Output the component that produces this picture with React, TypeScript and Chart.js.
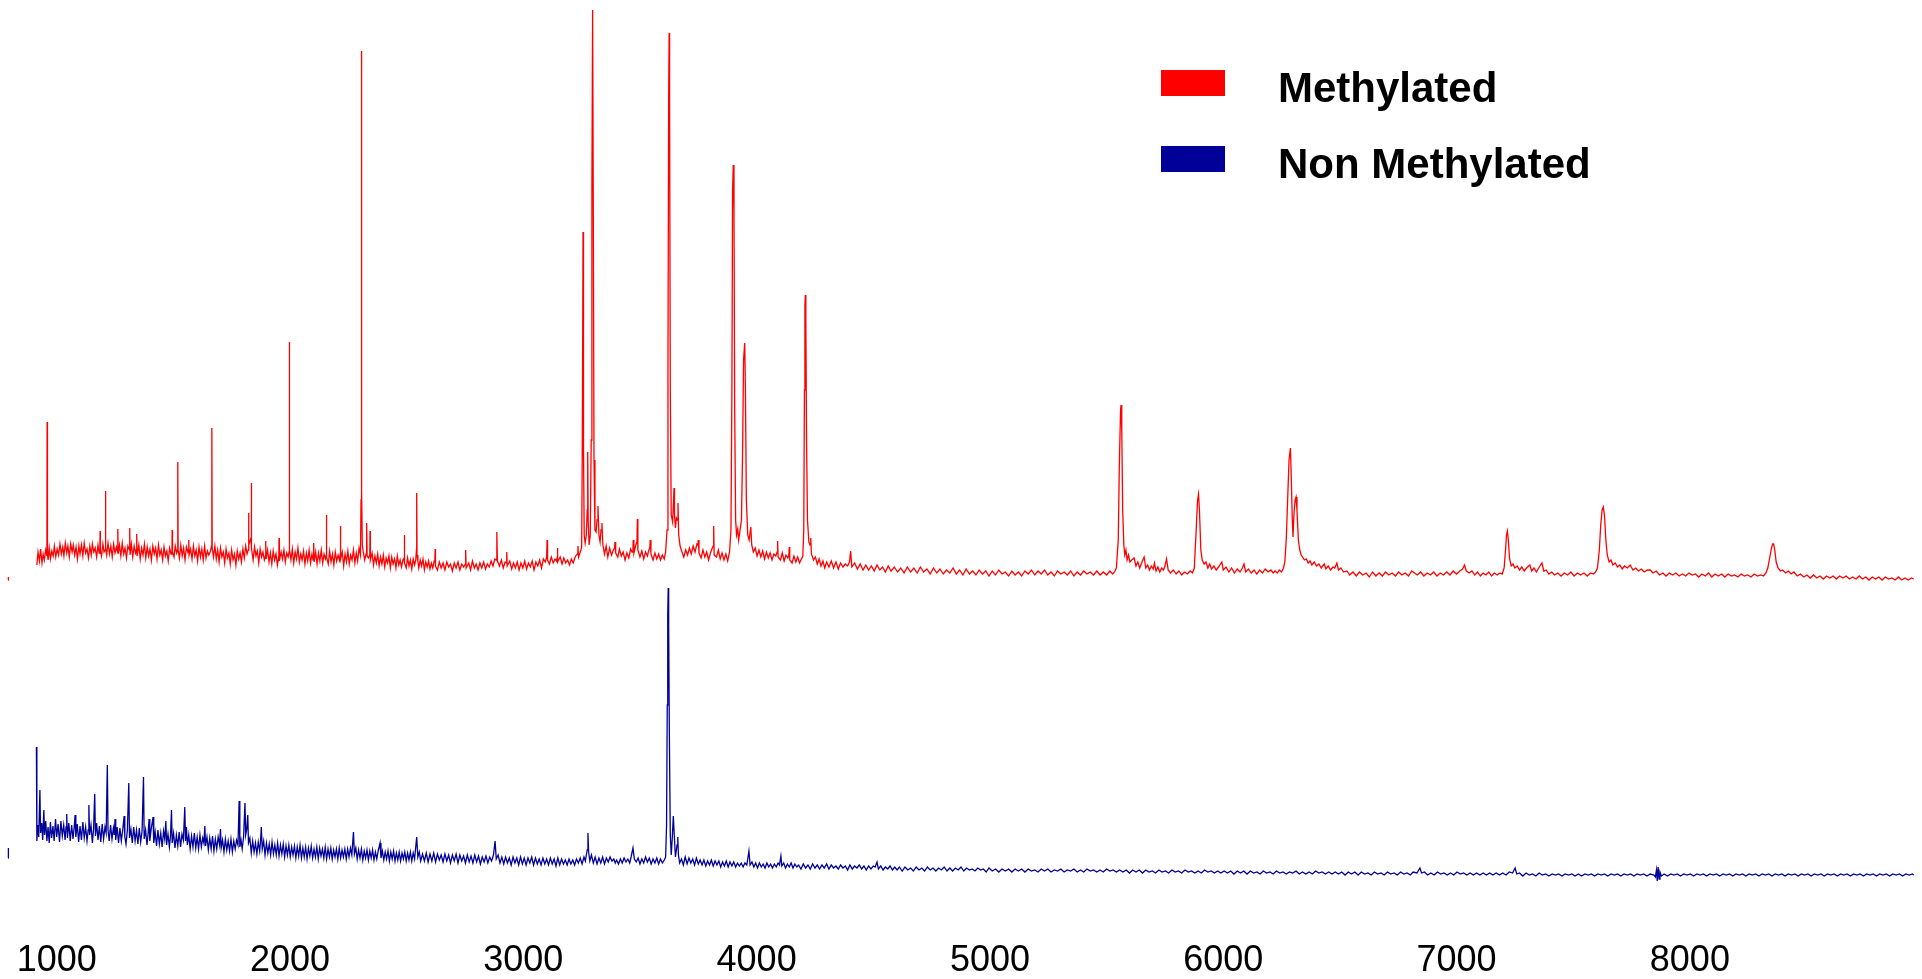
import { useEffect, useRef } from 'react';
import { Chart, registerables } from 'chart.js';

Chart.register(...registerables);

// m/z axis range and tick labels
const X_MIN = 757;
const X_MAX = 8995;
const X_TICKS = [1000, 2000, 3000, 4000, 5000, 6000, 7000, 8000];

// vertical range (intensity, a.u.) and the offset of each stacked spectrum
const Y_MAX = 943;
const RED_OFFSET = 353;
const BLUE_OFFSET = 58;

const SERIES_NAMES = ['Methylated', 'Non Methylated'];
const SERIES_COLORS = ['#ff0000', '#000099'];

type Pt = [number, number];

// ---- Methylated spectrum: [m/z, intensity] ----
const RED_LEAD: Pt[] = [[792, 10], [793, 13]];

const RED_1: Pt[] = [
  [915, 25], [920, 38], [926, 29], [931, 41], [937, 27], [942, 36], [947, 30], [953, 40], [958, 34], [959, 168], [960.5, 36],
  [963, 30], [968, 42], [973, 31], [979, 39], [985, 34], [990, 44], [996, 33], [1002, 41], [1008, 35], [1014, 46], [1020, 36],
  [1026, 43], [1031, 34], [1037, 47], [1043, 37], [1048, 44], [1054, 33], [1060, 46], [1066, 38], [1071, 45], [1077, 35],
  [1083, 43], [1089, 31], [1095, 44], [1100, 36], [1106, 45], [1112, 34], [1118, 47], [1124, 37], [1130, 41], [1136, 32],
  [1142, 44], [1148, 35], [1153, 46], [1159, 38], [1165, 42], [1171, 33], [1177, 45], [1182, 37], [1185, 38], [1186, 59],
  [1187, 40], [1192, 34], [1198, 46], [1203, 38], [1208, 40], [1209, 99], [1210.5, 42], [1214, 35], [1220, 47], [1226, 36],
  [1232, 44], [1238, 33], [1244, 46], [1250, 37], [1256, 43], [1261, 38], [1262, 61], [1263.5, 36], [1269, 45], [1275, 34],
  [1281, 47], [1287, 36], [1293, 42], [1299, 32], [1305, 44], [1312, 40], [1313, 62], [1314.5, 35], [1320, 46], [1326, 33],
  [1332, 44], [1338, 37], [1342, 40], [1343, 56], [1344.5, 34], [1352, 45], [1358, 31], [1364, 42], [1370, 35], [1376, 46],
  [1382, 32], [1388, 43], [1394, 34], [1400, 41], [1406, 30], [1412, 44], [1418, 36], [1424, 42], [1430, 31], [1436, 45],
  [1442, 35], [1448, 40], [1454, 30], [1460, 43], [1466, 34], [1472, 39], [1478, 29], [1484, 42], [1490, 36], [1494, 38],
  [1495, 60], [1496.5, 38], [1503, 33], [1508, 44], [1514, 37], [1518, 40], [1519, 128], [1520.5, 40], [1526, 32], [1532, 45],
  [1538, 34], [1544, 42], [1550, 30], [1556, 43], [1562, 38], [1565, 40], [1566, 50], [1567.5, 35], [1574, 41], [1580, 31],
  [1586, 44], [1592, 34], [1598, 40], [1604, 29], [1610, 43], [1616, 33], [1622, 41], [1628, 30], [1634, 44], [1640, 32],
  [1646, 39], [1652, 35], [1658, 38], [1664, 44], [1665, 162], [1666.5, 42], [1672, 33], [1678, 44], [1684, 31], [1690, 40],
  [1696, 28], [1702, 42], [1708, 33], [1714, 38], [1720, 27], [1726, 41], [1732, 32], [1738, 37], [1744, 26], [1750, 40],
  [1756, 30], [1762, 36], [1768, 25], [1774, 39], [1780, 31], [1786, 37], [1792, 28], [1798, 41], [1804, 32], [1810, 44],
  [1816, 36], [1821, 40], [1822, 77], [1824, 45], [1830, 50], [1833, 52], [1834, 107], [1835.5, 42], [1842, 30], [1848, 43],
  [1854, 34], [1860, 39], [1866, 27], [1872, 41], [1878, 33], [1884, 38], [1890, 30], [1895, 34], [1896, 49], [1897.5, 31],
  [1904, 40], [1910, 28], [1916, 37], [1922, 26], [1928, 39], [1934, 30], [1940, 36], [1946, 25], [1952, 34], [1953, 52],
  [1954.5, 29], [1962, 38], [1968, 31], [1974, 40], [1980, 28], [1986, 37], [1992, 33], [1996, 38], [1997, 248], [1998.5, 40],
  [2004, 30], [2010, 41], [2016, 27], [2022, 38], [2028, 31], [2034, 42], [2040, 28], [2046, 36], [2052, 30], [2058, 39],
  [2064, 26], [2070, 37], [2076, 29], [2082, 40], [2088, 27], [2094, 36], [2099, 30], [2101, 33], [2102, 47], [2103.5, 28],
  [2110, 38], [2116, 26], [2122, 37], [2128, 29], [2134, 40], [2140, 27], [2146, 36], [2152, 31], [2155, 34], [2156, 75],
  [2157.5, 33], [2164, 26], [2170, 39], [2176, 28], [2182, 36], [2188, 25], [2194, 38], [2200, 29], [2206, 35], [2212, 30],
  [2215, 35], [2216, 64], [2217.5, 31], [2224, 38], [2230, 24], [2236, 36], [2242, 28], [2248, 39], [2254, 26], [2260, 35],
  [2266, 30], [2272, 40], [2278, 27], [2284, 37], [2290, 29], [2296, 42], [2302, 35], [2304.5, 90], [2306, 539], [2307.5, 100],
  [2310, 45], [2314, 38], [2320, 30], [2326, 36], [2328, 38], [2329, 67], [2330.5, 34], [2336, 32], [2342, 35], [2343, 59],
  [2344.5, 30], [2352, 37], [2358, 25], [2364, 34], [2370, 27], [2376, 36], [2382, 24], [2388, 33], [2394, 26], [2400, 35],
  [2406, 23], [2412, 32], [2418, 27], [2424, 34], [2430, 22], [2436, 33], [2442, 26], [2448, 31], [2454, 22], [2460, 34],
  [2466, 25], [2472, 30], [2478, 23], [2484, 30], [2489, 32], [2490, 55], [2491.5, 27], [2498, 22],
];

const RED_2: Pt[] = [
  [2504, 32], [2510, 24], [2516, 30], [2522, 21], [2528, 31], [2534, 25], [2539, 30], [2542, 40], [2543, 97], [2544.5, 35],
  [2548, 29], [2552, 22], [2558, 30], [2564, 24], [2570, 31], [2576, 20], [2582, 28], [2588, 23], [2594, 29], [2600, 21],
  [2606, 27], [2612, 22], [2618, 29], [2621, 30], [2622, 41], [2623.5, 24], [2632, 20], [2640, 28], [2648, 22], [2656, 27],
  [2664, 20], [2672, 28], [2680, 23], [2688, 26], [2696, 19], [2704, 27], [2712, 22], [2720, 28], [2728, 20], [2736, 26],
  [2744, 23], [2752, 26], [2753, 40], [2755, 22], [2766, 27], [2774, 20], [2782, 29], [2790, 22], [2798, 26], [2806, 20],
  [2814, 27], [2822, 22], [2830, 28], [2838, 21], [2846, 26], [2854, 23], [2862, 29], [2870, 24], [2878, 31], [2884, 30],
  [2886, 35], [2887, 58], [2889, 29], [2898, 24], [2906, 30], [2914, 22], [2922, 28], [2928, 27], [2929, 38], [2931, 24],
  [2942, 29], [2950, 21], [2958, 27], [2966, 22], [2974, 28], [2982, 20], [2990, 27], [2998, 22], [3006, 29], [3014, 21],
  [3022, 27], [3030, 23], [3038, 29], [3046, 20], [3054, 28], [3062, 24], [3070, 30], [3078, 22], [3086, 31], [3094, 28],
  [3100, 33], [3102, 50], [3104, 30], [3112, 26], [3120, 33], [3128, 27], [3136, 31], [3142, 29], [3145, 32], [3146, 42],
  [3148, 28], [3158, 33], [3166, 26], [3174, 32], [3182, 27], [3190, 30], [3198, 25], [3206, 31], [3214, 27], [3222, 33],
  [3228, 35], [3232, 36], [3234, 44], [3237, 33], [3244, 38], [3250, 42], [3253, 150], [3256, 358], [3258, 140], [3261, 55],
  [3265, 47], [3270, 55], [3274, 80], [3276, 138], [3278, 70], [3282, 45], [3287, 55], [3291, 150], [3294, 400], [3297, 580],
  [3300, 380], [3303, 130], [3307, 60], [3312, 58], [3316, 70], [3320, 84], [3324, 55], [3329, 48], [3333, 60], [3337, 67],
  [3341, 45], [3348, 36], [3355, 44], [3362, 33], [3370, 42], [3378, 35], [3386, 40], [3391, 42], [3393, 48], [3396, 37],
  [3405, 33], [3412, 41], [3420, 34], [3428, 38], [3436, 30], [3444, 37], [3452, 32], [3460, 41], [3466, 38], [3470, 42],
  [3471, 50], [3474, 37], [3482, 45], [3487, 48], [3489, 71], [3491, 40], [3500, 33], [3508, 39], [3516, 31], [3524, 38],
  [3532, 34], [3538, 40], [3542, 42], [3544, 50], [3547, 36], [3556, 30], [3564, 37], [3572, 31], [3580, 36], [3588, 30],
  [3596, 35], [3604, 31], [3610, 38], [3616, 60], [3620, 220], [3623, 490], [3625, 557], [3627, 480], [3630, 200], [3634, 75],
  [3640, 68], [3644, 90], [3646, 102], [3648, 75], [3652, 62], [3656, 72], [3660, 70], [3663, 87], [3666, 55], [3672, 44],
  [3680, 38], [3688, 33], [3696, 40], [3704, 35], [3712, 42], [3720, 36], [3728, 44], [3736, 38], [3744, 46], [3748, 45],
  [3750, 50], [3753, 37], [3762, 32], [3770, 40], [3778, 33], [3786, 38], [3794, 30], [3802, 37], [3810, 42], [3814, 44],
  [3816, 64], [3818, 35], [3828, 33], [3836, 40], [3844, 31], [3852, 37], [3860, 30], [3868, 36], [3876, 29], [3884, 38],
  [3890, 60], [3894, 200], [3897, 400], [3900, 425], [3903, 380], [3906, 180], [3910, 70], [3914, 55], [3919, 61], [3923, 50],
  [3928, 58], [3935, 70], [3940, 140], [3944, 230], [3949, 247], [3952, 200], [3956, 90], [3962, 55], [3968, 50], [3975, 63],
  [3979, 45], [3986, 38], [3994, 42], [4002, 34], [4010, 40], [4018, 33], [4026, 39], [4034, 31], [4042, 38], [4050, 32],
  [4058, 37], [4066, 30], [4074, 36], [4082, 34], [4088, 38], [4090, 49], [4092, 33], [4102, 30], [4110, 37], [4118, 29],
  [4126, 35], [4134, 32], [4138, 35], [4140, 43], [4142, 30], [4152, 27], [4160, 34], [4168, 28], [4176, 33], [4184, 27],
  [4192, 31], [4198, 34], [4202, 60], [4205, 200], [4207, 285], [4209, 295], [4211, 270], [4214, 150], [4218, 70], [4224, 48],
  [4229, 45], [4232, 52], [4235, 36], [4244, 30], [4252, 33], [4260, 26], [4268, 31], [4276, 24], [4284, 29], [4292, 22],
  [4300, 28], [4310, 23], [4320, 29], [4330, 22], [4340, 28], [4350, 21], [4360, 27], [4370, 23], [4380, 26], [4390, 24],
  [4398, 28], [4403, 39], [4408, 23], [4420, 27], [4432, 21], [4444, 26], [4456, 20], [4468, 25], [4480, 20], [4492, 24],
];

const RED_3: Pt[] = [
  [4504, 19], [4516, 25], [4528, 20], [4540, 23], [4552, 18], [4564, 24], [4576, 19], [4590, 23], [4604, 18], [4618, 22],
  [4632, 17], [4646, 23], [4660, 18], [4674, 22], [4688, 17], [4702, 23], [4716, 18], [4730, 21], [4744, 16], [4758, 22],
  [4772, 17], [4786, 21], [4800, 16], [4814, 20], [4828, 17], [4842, 22], [4856, 16], [4870, 20], [4884, 15], [4898, 21],
  [4912, 16], [4926, 19], [4940, 15], [4954, 20], [4968, 16], [4982, 19], [4996, 14], [5010, 19], [5024, 15], [5038, 20],
  [5052, 16], [5066, 18], [5080, 14], [5094, 19], [5108, 15], [5122, 18], [5136, 14], [5150, 19], [5164, 16], [5178, 20],
  [5192, 15], [5206, 19], [5220, 16], [5234, 20], [5248, 15], [5262, 18], [5276, 14], [5290, 19], [5304, 16], [5318, 18],
  [5332, 15], [5346, 19], [5360, 14], [5374, 18], [5388, 15], [5402, 19], [5416, 16], [5430, 18], [5444, 15], [5458, 19],
  [5472, 15], [5486, 18], [5500, 15], [5514, 19], [5526, 16], [5534, 18], [5542, 22], [5550, 50], [5555, 130], [5560, 180],
  [5562, 185], [5565, 160], [5569, 80], [5574, 45], [5578, 35], [5583, 40], [5588, 30], [5594, 35], [5600, 28], [5608, 30],
  [5618, 32], [5626, 24], [5634, 28], [5642, 22], [5650, 27], [5661, 33], [5668, 22], [5676, 25], [5684, 20], [5692, 24],
  [5700, 21], [5705, 27], [5712, 19], [5720, 23], [5728, 18], [5736, 22], [5744, 20], [5750, 24], [5757, 31], [5764, 20],
  [5774, 17], [5786, 20], [5798, 16], [5810, 19], [5822, 15], [5834, 18], [5846, 16], [5858, 19], [5868, 17], [5876, 22],
  [5884, 60], [5890, 90], [5894, 96], [5898, 80], [5904, 40], [5910, 30], [5918, 26], [5926, 28], [5934, 22], [5942, 26],
  [5950, 21], [5960, 24], [5970, 20], [5980, 23], [5994, 28], [6000, 20], [6012, 23], [6024, 18], [6036, 22], [6048, 17],
  [6060, 21], [6072, 18], [6082, 22], [6089, 26], [6096, 18], [6108, 21], [6120, 17], [6132, 20], [6144, 16], [6156, 20],
  [6168, 17], [6180, 21], [6192, 18], [6204, 20], [6214, 17], [6222, 19], [6232, 17], [6240, 20], [6250, 18], [6258, 22],
  [6264, 28], [6270, 50], [6276, 90], [6282, 130], [6288, 142], [6292, 110], [6296, 70], [6299, 53], [6303, 75], [6308, 90],
  [6312, 93], [6316, 80], [6322, 50], [6328, 40], [6334, 35], [6340, 33], [6348, 30], [6356, 31], [6364, 27], [6372, 29],
  [6380, 25], [6390, 28], [6400, 24], [6410, 26], [6420, 22], [6433, 26], [6440, 21], [6450, 24], [6460, 20], [6470, 23],
  [6478, 22], [6487, 27], [6494, 20], [6504, 22], [6516, 18], [6530, 19], [6542, 15], [6556, 18], [6570, 14], [6584, 18],
  [6598, 15], [6612, 17], [6626, 13], [6640, 18], [6654, 14], [6668, 17], [6682, 14], [6696, 18], [6710, 15], [6724, 17],
  [6738, 14], [6752, 18], [6766, 15], [6780, 17], [6794, 14], [6808, 19], [6820, 17], [6832, 15], [6846, 18], [6860, 14],
  [6874, 17], [6888, 15], [6902, 18], [6916, 14], [6930, 17], [6944, 15], [6958, 18], [6972, 15], [6986, 19], [7000, 16],
  [7014, 19], [7026, 21], [7034, 25], [7042, 19], [7054, 17], [7066, 19], [7078, 15], [7090, 18], [7102, 14], [7114, 17],
  [7126, 15], [7138, 18], [7150, 14], [7162, 17], [7174, 15], [7186, 17], [7196, 16], [7204, 22], [7210, 40], [7214, 55],
  [7218, 59], [7222, 50], [7227, 32], [7234, 24], [7242, 26], [7250, 22], [7260, 24], [7270, 20], [7280, 23], [7290, 19],
  [7300, 22], [7314, 25], [7322, 19], [7332, 22], [7342, 18], [7352, 22], [7366, 27], [7374, 19], [7384, 20], [7396, 16],
  [7408, 18], [7420, 15], [7434, 17], [7448, 14], [7462, 17], [7476, 15], [7490, 18], [7504, 14], [7518, 17], [7532, 15],
  [7546, 17], [7560, 14], [7574, 17], [7586, 16], [7596, 18], [7604, 22], [7612, 40], [7618, 65], [7624, 80], [7629, 83],
  [7634, 75], [7640, 50], [7646, 35], [7654, 28], [7662, 30], [7670, 25], [7680, 27], [7690, 23], [7700, 25], [7710, 21],
  [7720, 24], [7732, 22], [7744, 25], [7756, 20], [7768, 22], [7780, 19], [7792, 21], [7804, 18], [7818, 20], [7830, 20],
  [7842, 17], [7856, 19], [7870, 15], [7884, 17], [7898, 14], [7912, 17], [7926, 15], [7940, 17], [7954, 14], [7968, 16],
  [7982, 14], [7996, 17], [8010, 15], [8024, 16], [8038, 13], [8052, 16], [8066, 14], [8080, 17], [8094, 13], [8108, 16],
  [8122, 14], [8136, 16], [8150, 13], [8164, 16], [8178, 14], [8192, 15], [8206, 13], [8220, 16], [8234, 14], [8248, 15],
  [8262, 13], [8276, 16], [8290, 14], [8304, 15], [8316, 14], [8326, 17], [8334, 22], [8342, 32], [8350, 42], [8355, 46],
  [8359, 46], [8364, 40], [8370, 28], [8378, 22], [8388, 19], [8398, 20], [8410, 17], [8422, 19], [8434, 16], [8446, 18],
  [8460, 14], [8474, 16], [8488, 13], [8502, 15], [8516, 12], [8530, 15], [8544, 12], [8558, 14], [8572, 11], [8586, 14],
  [8600, 12], [8614, 14], [8628, 11], [8642, 14], [8656, 12], [8670, 14], [8684, 11], [8698, 13], [8712, 11], [8726, 14],
  [8740, 11], [8754, 13], [8768, 10], [8782, 13], [8796, 11], [8810, 13], [8824, 10], [8838, 13], [8852, 11], [8866, 12],
  [8880, 10], [8894, 13], [8908, 10], [8922, 12], [8936, 10], [8950, 12], [8960, 11],
];

// ---- Non methylated spectrum: [m/z, intensity] ----
const BLUE_LEAD: Pt[] = [[792, 27], [793, 37]];

const BLUE_1: Pt[] = [
  [913, 138], [915, 44], [919, 60], [923, 48], [928, 95], [931, 52], [936, 62], [940, 45], [945, 75], [948, 50], [953, 64],
  [958, 44], [963, 58], [968, 42], [973, 63], [978, 47], [984, 59], [989, 44], [995, 66], [1000, 48], [1006, 61], [1012, 43],
  [1018, 64], [1024, 49], [1030, 60], [1036, 45], [1040, 58], [1043, 71], [1046, 47], [1052, 62], [1058, 44], [1064, 60],
  [1070, 46], [1075, 58], [1079, 70], [1082, 48], [1088, 61], [1094, 43], [1100, 59], [1106, 45], [1112, 63], [1118, 47],
  [1124, 58], [1130, 44], [1135, 55], [1138, 80], [1141, 50], [1147, 60], [1153, 42], [1158, 56], [1163, 91], [1166, 49],
  [1171, 62], [1177, 45], [1183, 59], [1189, 43], [1195, 61], [1201, 46], [1207, 58], [1212, 52], [1217, 120], [1220, 55],
  [1225, 44], [1231, 60], [1237, 46], [1243, 57], [1247, 50], [1250, 66], [1253, 45], [1259, 58], [1265, 42], [1271, 57],
  [1277, 44], [1283, 55], [1289, 69], [1292, 48], [1297, 41], [1303, 55], [1309, 102], [1312, 47], [1318, 56], [1324, 42],
  [1330, 58], [1336, 44], [1342, 55], [1348, 41], [1354, 57], [1360, 43], [1366, 54], [1372, 108], [1375, 46], [1381, 55],
  [1387, 40], [1392, 52], [1396, 66], [1399, 44], [1405, 56], [1413, 68], [1416, 42], [1422, 53], [1428, 39], [1434, 55],
  [1440, 41], [1446, 52], [1452, 38], [1458, 54], [1463, 46], [1468, 64], [1471, 40], [1477, 51], [1483, 38], [1488, 50],
  [1492, 75], [1495, 42], [1501, 52], [1507, 37], [1513, 50], [1519, 39], [1525, 53], [1531, 38], [1537, 51], [1543, 45],
  [1549, 78], [1552, 44], [1556, 58], [1560, 40], [1566, 50], [1572, 36], [1578, 49], [1584, 38], [1590, 52], [1596, 37],
  [1602, 48], [1608, 36], [1614, 50], [1620, 38], [1626, 47], [1631, 42], [1635, 59], [1638, 39], [1644, 48], [1650, 35],
  [1656, 47], [1662, 36], [1668, 49], [1674, 34], [1680, 46], [1686, 36], [1692, 48], [1698, 40], [1702, 56], [1705, 37],
  [1711, 45], [1717, 33], [1723, 46], [1729, 35], [1735, 44], [1741, 34], [1747, 46], [1753, 33], [1759, 44], [1765, 36],
  [1771, 45], [1777, 40], [1782, 84], [1785, 38], [1790, 45], [1795, 36], [1801, 48], [1807, 82], [1810, 50], [1814, 55],
  [1819, 70], [1822, 42], [1828, 47], [1834, 32], [1840, 44], [1846, 33], [1852, 42], [1858, 31], [1864, 43], [1870, 34],
  [1874, 45], [1877, 58], [1881, 36], [1887, 44], [1893, 30], [1899, 42], [1905, 32], [1911, 41], [1917, 30], [1923, 43],
  [1929, 31], [1935, 40], [1941, 30], [1947, 42], [1953, 29], [1959, 40], [1965, 31], [1971, 41], [1977, 28], [1983, 39],
  [1989, 30], [1995, 40], [2001, 28], [2007, 38], [2013, 30], [2019, 39], [2025, 27], [2031, 38], [2037, 29], [2043, 40],
  [2049, 27], [2055, 37], [2061, 28], [2067, 38], [2073, 26], [2079, 37], [2085, 29], [2091, 39], [2097, 27], [2103, 36],
  [2109, 28], [2115, 38], [2121, 26], [2127, 37], [2133, 29], [2139, 36], [2145, 27], [2151, 38], [2157, 26], [2163, 36],
  [2169, 28], [2175, 37], [2181, 26], [2187, 35], [2193, 28], [2199, 36], [2205, 26], [2211, 37], [2217, 27], [2223, 35],
  [2229, 28], [2235, 36], [2241, 26], [2247, 36], [2253, 28], [2259, 37], [2265, 30], [2272, 53], [2276, 31], [2282, 37],
  [2288, 26], [2294, 35], [2300, 27], [2306, 36], [2312, 25], [2318, 34], [2324, 27], [2330, 35], [2336, 25], [2342, 34],
  [2348, 27], [2354, 35], [2360, 25], [2366, 33], [2372, 26], [2378, 34], [2386, 42], [2390, 27], [2396, 34], [2402, 25],
  [2408, 33], [2414, 26], [2420, 34], [2426, 24], [2432, 33], [2438, 26], [2444, 34], [2450, 24], [2456, 32], [2462, 25],
  [2468, 33], [2474, 24], [2480, 32], [2486, 26], [2492, 33], [2498, 24],
];

const BLUE_2: Pt[] = [
  [2504, 32], [2510, 25], [2516, 33], [2522, 24], [2528, 32], [2534, 26], [2543, 48], [2548, 28], [2554, 33], [2560, 24],
  [2568, 31], [2576, 24], [2584, 32], [2592, 23], [2600, 31], [2608, 24], [2616, 32], [2624, 23], [2632, 31], [2640, 25],
  [2648, 30], [2656, 23], [2664, 31], [2672, 24], [2680, 30], [2688, 22], [2696, 30], [2704, 24], [2712, 31], [2720, 22],
  [2728, 30], [2736, 24], [2744, 29], [2752, 22], [2760, 30], [2768, 23], [2776, 29], [2784, 22], [2792, 30], [2800, 23],
  [2808, 29], [2816, 21], [2824, 28], [2832, 23], [2840, 29], [2848, 22], [2856, 28], [2864, 24], [2872, 30], [2879, 44],
  [2884, 26], [2892, 30], [2900, 22], [2908, 28], [2916, 21], [2924, 28], [2932, 22], [2940, 27], [2948, 20], [2956, 28],
  [2964, 22], [2972, 27], [2980, 20], [2988, 28], [2996, 21], [3004, 27], [3012, 20], [3020, 27], [3028, 22], [3036, 28],
  [3044, 20], [3052, 27], [3060, 21], [3068, 26], [3076, 20], [3084, 27], [3092, 21], [3100, 26], [3108, 20], [3116, 27],
  [3124, 21], [3132, 26], [3140, 19], [3148, 27], [3156, 20], [3164, 26], [3172, 21], [3180, 25], [3188, 20], [3196, 26],
  [3204, 21], [3212, 25], [3220, 20], [3228, 26], [3236, 22], [3244, 27], [3252, 21], [3260, 28], [3266, 24], [3270, 30],
  [3274, 35], [3277, 52], [3280, 33], [3285, 24], [3292, 30], [3300, 22], [3308, 28], [3316, 21], [3324, 27], [3332, 22],
  [3340, 28], [3348, 21], [3356, 27], [3364, 23], [3372, 28], [3380, 24], [3388, 26], [3394, 22], [3400, 25], [3408, 21],
  [3416, 26], [3424, 22], [3432, 27], [3440, 23], [3448, 26], [3456, 22], [3462, 28], [3470, 37], [3476, 26], [3484, 23],
  [3492, 27], [3500, 21], [3508, 26], [3516, 22], [3524, 28], [3532, 23], [3540, 27], [3548, 21], [3556, 26], [3564, 22],
  [3572, 27], [3580, 21], [3588, 26], [3596, 22], [3604, 25], [3610, 28], [3614, 60], [3617, 180], [3619, 270], [3621, 297],
  [3623, 260], [3626, 150], [3630, 50], [3634, 30], [3638, 45], [3643, 69], [3647, 50], [3652, 28], [3656, 35], [3659, 40],
  [3662, 48], [3665, 30], [3670, 22], [3678, 26], [3686, 20], [3694, 28], [3702, 21], [3710, 27], [3718, 22], [3726, 26],
  [3734, 20], [3742, 27], [3750, 21], [3758, 25], [3766, 20], [3774, 25], [3782, 19], [3790, 24], [3798, 20], [3806, 25],
  [3814, 19], [3822, 24], [3830, 20], [3838, 24], [3846, 18], [3854, 23], [3862, 19], [3870, 24], [3878, 18], [3886, 23],
  [3894, 19], [3902, 23], [3910, 18], [3918, 22], [3926, 19], [3934, 22], [3942, 18], [3950, 22], [3958, 20], [3967, 34],
  [3972, 20], [3980, 23], [3988, 18], [3996, 22], [4004, 17], [4012, 22], [4020, 18], [4028, 21], [4036, 17], [4044, 22],
  [4052, 18], [4060, 21], [4068, 17], [4076, 21], [4084, 18], [4092, 22], [4098, 20], [4104, 29], [4108, 19], [4116, 22],
  [4124, 17], [4132, 21], [4140, 18], [4148, 22], [4156, 17], [4164, 21], [4172, 18], [4180, 20], [4190, 16], [4200, 21],
  [4210, 17], [4220, 20], [4230, 16], [4240, 21], [4250, 17], [4260, 20], [4270, 16], [4280, 20], [4290, 17], [4300, 21],
  [4310, 16], [4320, 20], [4330, 17], [4340, 19], [4350, 16], [4360, 20], [4370, 17], [4380, 19], [4390, 15], [4400, 20],
  [4410, 16], [4420, 19], [4430, 17], [4440, 20], [4450, 16], [4460, 19], [4470, 15], [4480, 19], [4490, 16],
];

const BLUE_3: Pt[] = [
  [4500, 19], [4508, 18], [4516, 23], [4522, 16], [4532, 19], [4542, 15], [4552, 18], [4562, 16], [4572, 19], [4582, 15],
  [4592, 18], [4602, 15], [4612, 18], [4624, 14], [4636, 18], [4648, 15], [4660, 17], [4672, 14], [4684, 18], [4696, 15],
  [4708, 17], [4720, 14], [4732, 18], [4744, 15], [4756, 17], [4768, 14], [4780, 17], [4792, 15], [4804, 18], [4816, 14],
  [4828, 17], [4840, 14], [4852, 17], [4864, 15], [4876, 18], [4888, 14], [4900, 17], [4912, 15], [4924, 16], [4936, 14],
  [4948, 17], [4960, 15], [4972, 16], [4984, 13], [4996, 17], [5010, 14], [5024, 16], [5038, 13], [5052, 16], [5066, 14],
  [5080, 16], [5094, 13], [5108, 16], [5122, 14], [5136, 16], [5150, 13], [5164, 16], [5178, 14], [5192, 15], [5206, 13],
  [5220, 16], [5234, 14], [5248, 16], [5262, 13], [5276, 15], [5290, 14], [5304, 16], [5318, 13], [5332, 15], [5346, 14],
  [5360, 16], [5374, 13], [5388, 15], [5402, 13], [5416, 16], [5430, 14], [5444, 15], [5458, 13], [5472, 15], [5486, 13],
  [5500, 16], [5514, 14], [5528, 15], [5542, 13], [5556, 15], [5570, 13], [5584, 15], [5598, 12], [5612, 15], [5626, 13],
  [5640, 15], [5654, 12], [5668, 15], [5682, 13], [5696, 14], [5710, 12], [5724, 15], [5738, 13], [5752, 14], [5766, 12],
  [5780, 15], [5794, 13], [5808, 14], [5822, 12], [5836, 15], [5850, 13], [5864, 14], [5878, 12], [5892, 14], [5906, 12],
  [5920, 15], [5934, 13], [5948, 14], [5962, 12], [5976, 14], [5990, 12], [6004, 14], [6018, 12], [6032, 14], [6046, 11],
  [6060, 14], [6074, 12], [6088, 14], [6102, 11], [6116, 14], [6130, 12], [6144, 13], [6158, 11], [6172, 14], [6186, 12],
  [6200, 13], [6214, 11], [6228, 14], [6242, 12], [6256, 13], [6270, 11], [6284, 13], [6298, 12], [6312, 14], [6326, 11],
  [6340, 13], [6354, 11], [6368, 13], [6382, 11], [6396, 14], [6410, 12], [6424, 13], [6438, 11], [6452, 13], [6466, 11],
  [6480, 13], [6494, 11], [6508, 13], [6522, 10], [6536, 13], [6550, 11], [6564, 13], [6578, 10], [6592, 13], [6606, 11],
  [6620, 12], [6634, 10], [6648, 13], [6662, 11], [6676, 12], [6690, 10], [6704, 13], [6718, 11], [6732, 12], [6746, 10],
  [6760, 13], [6774, 11], [6788, 12], [6802, 10], [6814, 13], [6830, 12], [6843, 17], [6850, 12], [6862, 13], [6876, 10],
  [6890, 12], [6904, 10], [6918, 13], [6932, 11], [6946, 12], [6960, 10], [6974, 12], [6988, 10], [7002, 13], [7016, 11],
  [7030, 12], [7044, 10], [7058, 12], [7072, 10], [7086, 12], [7100, 10], [7114, 12], [7128, 10], [7142, 12], [7156, 10],
  [7170, 12], [7184, 10], [7198, 12], [7212, 10], [7226, 13], [7240, 12], [7251, 17], [7258, 11], [7270, 12], [7284, 9],
  [7298, 12], [7312, 10], [7326, 11], [7340, 9], [7354, 12], [7368, 10], [7382, 11], [7396, 9], [7410, 11], [7424, 10],
  [7438, 11], [7452, 9], [7466, 11], [7480, 10], [7494, 11], [7508, 9], [7522, 11], [7536, 9], [7550, 11], [7564, 10],
  [7578, 11], [7592, 9], [7606, 11], [7620, 10], [7634, 11], [7648, 9], [7662, 11], [7676, 10], [7690, 11], [7704, 9],
  [7718, 11], [7732, 10], [7746, 11], [7760, 9], [7774, 11], [7788, 10], [7802, 11], [7816, 9], [7830, 11], [7846, 10],
  [7852, 8], [7857, 15], [7860, 4], [7864, 18], [7868, 6], [7872, 13], [7878, 9], [7890, 11], [7904, 9], [7918, 11],
  [7932, 10], [7946, 11], [7960, 9], [7974, 11], [7988, 10], [8002, 11], [8016, 9], [8030, 11], [8044, 10], [8058, 11],
  [8072, 9], [8086, 11], [8100, 10], [8114, 11], [8128, 9], [8142, 11], [8156, 10], [8170, 11], [8184, 9], [8198, 11],
  [8212, 10], [8226, 11], [8240, 9], [8254, 11], [8268, 10], [8282, 11], [8296, 9], [8310, 11], [8324, 10], [8338, 11],
  [8352, 9], [8366, 11], [8380, 10], [8394, 11], [8408, 9], [8422, 11], [8436, 10], [8450, 11], [8464, 9], [8478, 11],
  [8492, 10], [8506, 11], [8520, 9], [8534, 11], [8548, 10], [8562, 11], [8576, 9], [8590, 11], [8604, 10], [8618, 11],
  [8632, 9], [8646, 11], [8660, 10], [8674, 11], [8688, 9], [8702, 11], [8716, 10], [8730, 11], [8744, 9], [8758, 11],
  [8772, 10], [8786, 11], [8800, 9], [8814, 11], [8828, 10], [8842, 11], [8856, 9], [8870, 11], [8884, 10], [8898, 11],
  [8912, 9], [8926, 11], [8940, 10], [8954, 11], [8960, 10],
];

type XY = { x: number; y: number | null };

// Joins the short leading trace and the main trace, with a break between them,
// and lifts the spectrum by its stacking offset.
function buildTrace(lead: Pt[], main: Pt[], offset: number): XY[] {
  const out: XY[] = lead.map(([x, v]) => ({ x, y: v + offset }));
  out.push({ x: (lead[lead.length - 1][0] + main[0][0]) / 2, y: null });
  main.forEach(([x, v]) => out.push({ x, y: v + offset }));
  return out;
}

const legendPlugin = {
  id: 'cornerLegend',
  afterDraw(chart: any) {
    const ctx: CanvasRenderingContext2D = chart.ctx;
    ctx.save();
    ctx.font = 'bold 42px "Liberation Sans", Arial, Helvetica, sans-serif';
    ctx.textBaseline = 'alphabetic';
    ctx.textAlign = 'left';
    chart.data.datasets.forEach((ds: any, i: number) => {
      const top = 70 + i * 76;
      ctx.fillStyle = ds.borderColor;
      ctx.fillRect(1161, top, 64, 26);
      ctx.fillStyle = '#000000';
      ctx.fillText(ds.label, 1278, top + 32);
    });
    ctx.restore();
  },
};

export default function App() {
  const canvasRef = useRef<HTMLCanvasElement | null>(null);

  useEffect(() => {
    const canvas = canvasRef.current;
    if (!canvas) return;
    const red = buildTrace(RED_LEAD, [...RED_1, ...RED_2, ...RED_3], RED_OFFSET);
    const blue = buildTrace(BLUE_LEAD, [...BLUE_1, ...BLUE_2, ...BLUE_3], BLUE_OFFSET);

    const chart = new Chart(canvas, {
      type: 'line',
      data: {
        datasets: [
          {
            label: SERIES_NAMES[0],
            data: red as any,
            borderColor: SERIES_COLORS[0],
            backgroundColor: SERIES_COLORS[0],
            borderWidth: 1.3,
            pointRadius: 0,
            tension: 0,
            spanGaps: false,
            fill: false,
          },
          {
            label: SERIES_NAMES[1],
            data: blue as any,
            borderColor: SERIES_COLORS[1],
            backgroundColor: SERIES_COLORS[1],
            borderWidth: 1.3,
            pointRadius: 0,
            tension: 0,
            spanGaps: false,
            fill: false,
          },
        ],
      },
      options: {
        animation: false,
        responsive: false,
        maintainAspectRatio: false,
        events: [],
        layout: { padding: 0 },
        plugins: {
          legend: { display: false },
          tooltip: { enabled: false },
        },
        scales: {
          x: {
            type: 'linear',
            min: X_MIN,
            max: X_MAX,
            grid: { display: false, drawTicks: false },
            border: { display: false },
            afterBuildTicks: (scale: any) => {
              scale.ticks = X_TICKS.map((v) => ({ value: v }));
            },
            ticks: {
              autoSkip: false,
              maxRotation: 0,
              padding: 0,
              color: '#000000',
              font: { family: '"Liberation Sans", Arial, Helvetica, sans-serif', size: 36, lineHeight: 1 },
              callback: (v: any) => String(v),
            },
          },
          y: {
            display: false,
            min: 0,
            max: Y_MAX,
          },
        },
      },
      plugins: [legendPlugin],
    });

    return () => chart.destroy();
  }, []);

  return (
    <div style={{ position: 'fixed', left: 0, top: 0, width: 1922, height: 979, background: '#ffffff' }}>
      <canvas ref={canvasRef} width={1922} height={979} style={{ display: 'block', width: 1922, height: 979 }} />
    </div>
  );
}
